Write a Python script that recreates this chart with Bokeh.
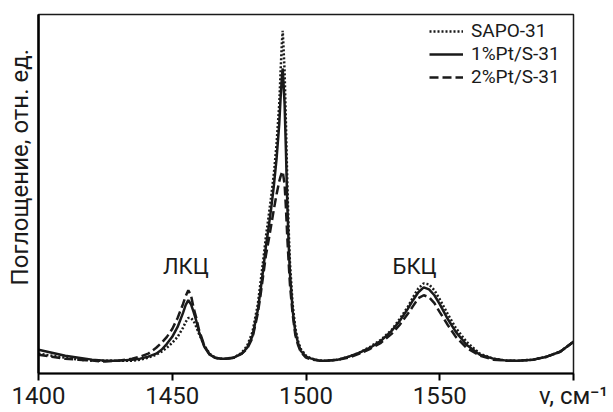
from bokeh.plotting import figure
from bokeh.models import Range1d, FixedTicker, Label, Legend, LegendItem
from bokeh.embed import file_html
from bokeh.resources import INLINE

FONT = "Roboto"

# wavenumber, cm^-1
wavenumber = [
    1400, 1405, 1410, 1415, 1420, 1425, 1430, 1435, 1438, 1441,
    1444, 1446, 1448, 1450, 1452, 1454, 1455, 1456, 1457, 1458,
    1459, 1460, 1462, 1464, 1466, 1468, 1470, 1473, 1476, 1478,
    1480, 1482, 1483, 1484, 1485, 1486, 1487, 1488, 1489, 1490,
    1490.5, 1491, 1491.3, 1492, 1492.5, 1493, 1493.5, 1494, 1495, 1496,
    1497, 1498, 1500, 1502, 1505, 1508, 1512, 1516, 1520, 1524,
    1528, 1532, 1535, 1538, 1540, 1542, 1544, 1546, 1548, 1550,
    1553, 1556, 1560, 1565, 1570, 1575, 1580, 1585, 1590, 1595,
    1600,
]

# absorbance, arbitrary units
sapo31 = [
    20, 18, 16, 14, 13, 13, 13, 13, 14, 16,
    19, 22, 26, 31, 37, 46, 52, 56, 56, 53,
    47, 40, 28, 20, 16, 15, 15, 16, 21, 28,
    42, 70, 92, 114, 138, 158, 179, 202, 232, 272,
    305, 335, 346, 305, 252, 194, 147, 112, 70, 46,
    33, 25, 18, 15, 13, 13, 14, 17, 21, 27,
    34, 44, 55, 67, 77, 86, 91, 90, 84, 75,
    60, 46, 32, 20, 15, 13, 13, 14, 17, 22,
    32,
]

pt1_s31 = [
    24, 21, 18, 16, 14, 13, 13, 14, 15, 17,
    20, 24, 30, 37, 47, 61, 69, 74, 70, 62,
    53, 42, 27, 19, 16, 15, 15, 16, 20, 26,
    38, 64, 84, 105, 128, 147, 167, 190, 217, 252,
    278, 300, 308, 272, 225, 172, 132, 101, 64, 42,
    31, 23, 17, 15, 13, 13, 14, 17, 21, 26,
    33, 43, 53, 65, 74, 82, 87, 85, 79, 70,
    55, 42, 29, 19, 15, 13, 13, 14, 17, 22,
    32,
]

pt2_s31 = [
    19, 17, 15, 14, 13, 12, 13, 15, 17, 20,
    26, 31, 37, 45, 56, 70, 78, 84, 79, 66,
    56, 44, 28, 19, 16, 15, 15, 16, 20, 25,
    36, 61, 79, 99, 119, 134, 150, 166, 181, 194,
    199, 203, 204, 191, 167, 138, 113, 90, 60, 39,
    29, 22, 16, 14, 13, 13, 14, 16, 20, 25,
    31, 40, 49, 60, 68, 76, 79, 77, 71, 62,
    49, 37, 26, 18, 14, 13, 13, 14, 17, 22,
    32,
]

series_names = ["SAPO-31", "1%Pt/S-31", "2%Pt/S-31"]
x_ticks = [1400, 1450, 1500, 1550, 1600]
x_axis_title = "ν, см⁻¹"
y_axis_title = "Поглощение, отн. ед."
band_labels = ["ЛКЦ", "БКЦ"]
band_pos = [1455.1, 1540.6]
band_height = [108, 108]

assert len(wavenumber) == len(sapo31) == len(pt1_s31) == len(pt2_s31)

p = figure(width=613, height=412, output_backend="svg", toolbar_location=None,
           x_range=Range1d(1400, 1600), y_range=Range1d(0, 362.5),
           min_border_left=38, min_border_right=40, min_border_top=14,
           min_border_bottom=36)
p.background_fill_color = "white"
p.border_fill_color = "white"
p.xgrid.visible = False
p.ygrid.visible = False
p.outline_line_color = "#1a1a1a"
p.outline_line_width = 1.5

c = "#1a1a1a"

p.xaxis.ticker = FixedTicker(ticks=x_ticks)
p.xaxis.major_label_overrides = {1600: x_axis_title}
p.xaxis.major_tick_out = 7
p.xaxis.major_tick_in = 0
p.xaxis.major_tick_line_width = 2
p.xaxis.minor_tick_line_color = None
p.xaxis.axis_line_width = 2
p.xaxis.major_label_text_font = FONT
p.xaxis.major_label_text_font_size = "24px"
p.xaxis.major_label_text_color = c
p.xaxis.major_label_standoff = 1

p.yaxis.ticker = FixedTicker(ticks=[])
p.yaxis.major_label_text_font_size = "0px"
p.yaxis.major_tick_line_color = None
p.yaxis.minor_tick_line_color = None
p.yaxis.axis_line_width = 2.5
p.yaxis.axis_label = "\u00a0" * 9 + y_axis_title
p.yaxis.axis_label_text_font = FONT
p.yaxis.axis_label_text_font_style = "normal"
p.yaxis.axis_label_text_font_size = "24px"
p.yaxis.axis_label_text_color = c
p.yaxis.axis_label_standoff = 5

r1 = p.line(wavenumber, sapo31, line_color=c, line_width=2.5, line_dash="2 2")
r2 = p.line(wavenumber, pt1_s31, line_color=c, line_width=2.5)
r3 = p.line(wavenumber, pt2_s31, line_color=c, line_width=2.5, line_dash="9 4")

legend = Legend(items=[LegendItem(label=series_names[0], renderers=[r1]),
                       LegendItem(label=series_names[1], renderers=[r2]),
                       LegendItem(label=series_names[2], renderers=[r3])],
                location=(391, 285), padding=0, margin=0, spacing=0,
                glyph_width=34, glyph_height=20, label_height=20,
                label_standoff=8, border_line_color=None,
                background_fill_alpha=0,
                label_text_font=FONT, label_text_font_size="19px",
                label_text_color=c)
p.add_layout(legend)

for t, xp, yp in zip(band_labels, band_pos, band_height):
    p.add_layout(Label(x=xp, y=yp, text=t, text_align="center",
                       text_baseline="middle", text_font=FONT,
                       text_font_size="22px", text_color=c))

open("out.html", "w").write(file_html(p, INLINE))
